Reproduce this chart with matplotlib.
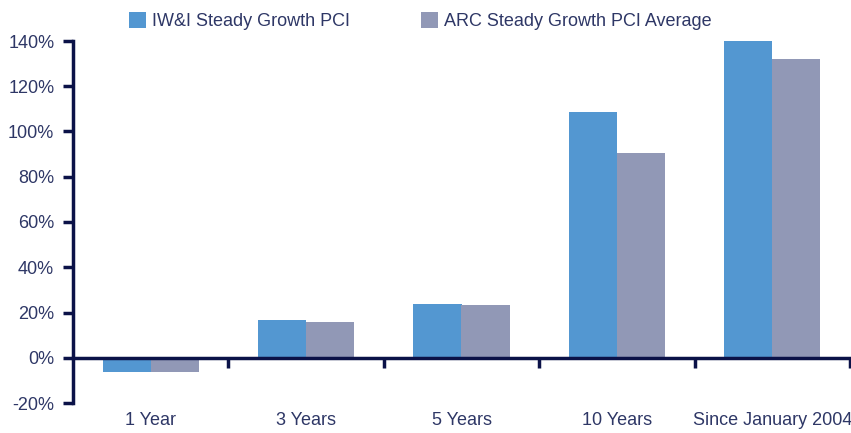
import numpy as np
import matplotlib.pyplot as plt

# # Data

categories = ['1 Year', '3 Years', '5 Years', '10 Years', 'Since January 2004']
iwi_values = [-6.5, 16.8, 23.9, 108.4, 140.6]
arc_values = [-6.5, 15.7, 23.5, 90.3, 131.9]
series_names = ['IW&I Steady Growth PCI', 'ARC Steady Growth PCI Average']

blue = '#5397d1'
grey = '#9198b6'
navy = '#0b1248'
text_col = '#2e3766'

plt.rcParams['font.family'] = ['Liberation Sans', 'DejaVu Sans']

fig = plt.figure(figsize=(8.51, 4.33), dpi=100)
ax = fig.add_axes([73 / 851, 1 - 403 / 433, 777 / 851, 362 / 433])

x = np.arange(len(categories))
w = 0.31
ax.bar(x - w / 2, iwi_values, w, color=blue, label=series_names[0])
ax.bar(x + w / 2, arc_values, w, color=grey, label=series_names[1])

ax.set_xlim(-0.5, len(categories) - 0.5)
ax.set_ylim(-20, 140)

# spines
for s in ['top', 'right']:
    ax.spines[s].set_visible(False)
ax.spines['bottom'].set_position(('data', 0))
ax.spines['bottom'].set_color(navy)
ax.spines['left'].set_color(navy)
ax.spines['bottom'].set_linewidth(2.5)
ax.spines['left'].set_linewidth(2.5)
ax.spines['bottom'].set_zorder(3)

# y axis
ax.set_yticks(np.arange(-20, 141, 20))
ax.set_yticklabels([f'{v}%' for v in range(-20, 141, 20)])
ax.tick_params(axis='y', direction='out', length=7, width=2.5, color=navy,
               labelcolor=text_col, labelsize=13, pad=6.5)

# x axis: ticks at group boundaries, labels placed below the plot
ax.set_xticks(np.arange(0.5, len(categories), 1))
ax.set_xticklabels([])
ax.tick_params(axis='x', direction='out', length=7, width=2.5, color=navy)
for i, c in enumerate(categories):
    ax.text(i, -27.8, c, ha='center', va='center', fontsize=13,
            color=text_col, clip_on=False)

leg = ax.legend(loc='lower left', bbox_to_anchor=(56 / 777, 1.03), ncol=2,
                frameon=False, fontsize=13, handlelength=0.95, handleheight=0.95,
                handletextpad=0.35, columnspacing=3.9, borderpad=0, borderaxespad=0)
for t in leg.get_texts():
    t.set_color(text_col)

fig.savefig('out.png', dpi=100)
